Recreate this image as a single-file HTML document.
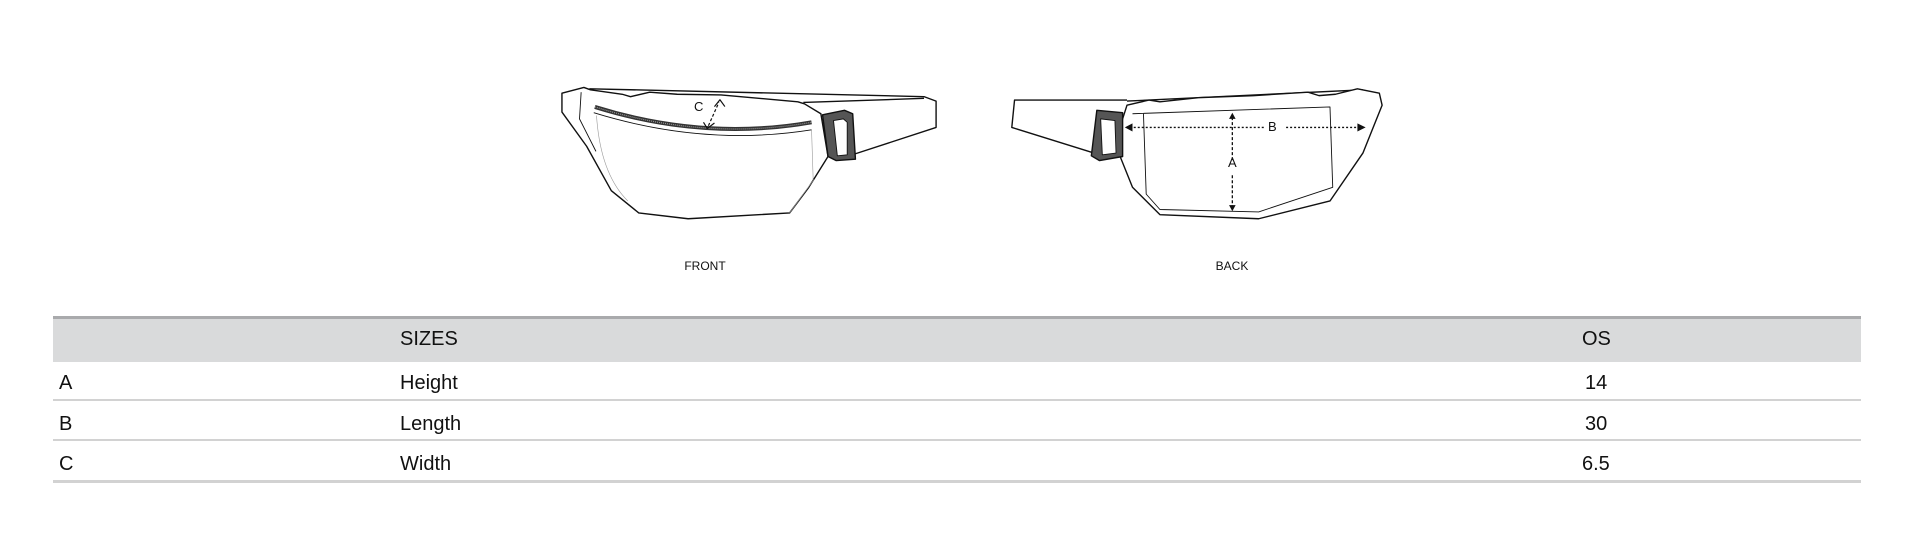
<!DOCTYPE html>
<html><head><meta charset="utf-8"><style>
html,body{margin:0;padding:0;background:#fff;width:1920px;height:552px;overflow:hidden;font-family:"Liberation Sans",sans-serif;}
svg{position:absolute;left:0;top:0}
.t{position:absolute;font-size:20px;color:#111;line-height:20px}
.hl{position:absolute;left:53px;width:1808px;}
path{vector-effect:non-scaling-stroke}
</style></head><body>
<svg width="1920" height="552" viewBox="0 0 1920 552">
<g transform="translate(540,71) scale(0.5486,0.342)" fill="none" stroke="#111" stroke-width="1.4" stroke-linejoin="round">
<path d="M90,52 L700,75 L722,88 L722,165 L575,242" fill="#fff"/>
<path d="M480,92 L700,80"/>
<path d="M40,65 L80,48 L92,55 L150,68 L165,75 L200,62 L250,68 L330,70 L470,90 L482,96 L512,125 L525,250 L490,340 L455,415 L270,432 L180,415 L130,350 L85,220 L40,120 Z" fill="#fff"/>
<path d="M75,62 L72,140 L102,235" stroke-width="0.9"/>
<path d="M100,105 Q300,205 495,150" stroke="#333" stroke-width="4"/>
<path d="M100,105 Q300,205 495,150" stroke="#999" stroke-width="1.2" stroke-dasharray="1 1"/>
<path d="M98,122 Q300,222 495,172" stroke-width="0.9"/>
<path d="M103,130 Q110,300 160,380" stroke="#999" stroke-width="0.6"/>
<path d="M495,172 L498,320 L455,415" stroke="#999" stroke-width="0.6"/>
<path d="M515,128 L555,115 L570,125 L575,258 L540,262 L525,250 Z" fill="#555"/>
<path d="M535,145 L553,140 L560,150 L560,245 L542,248 Z" fill="#fff" stroke-width="0.9"/>
<path d="M307,160 L326,92" stroke-width="1.2" stroke-dasharray="3 2"/>
<path d="M298,150 L305,168 L318,152 M318,104 L328,84 L337,104" stroke-width="1.2"/>
<path d="M1070,85 L865,85 L860,165 L1010,240" fill="#fff"/>
<path d="M1070,88 L1500,55"/>
<path d="M1070,100 L1110,85 L1130,90 L1200,78 L1300,72 L1400,62 L1420,72 L1450,68 L1490,52 L1530,65 L1535,100 L1500,240 L1440,380 L1310,432 L1130,420 L1080,340 L1055,240 L1060,150 Z" fill="#fff"/>
<path d="M1080,125 L1440,105 L1445,340 L1310,412 L1130,405 L1105,360 L1100,125" stroke-width="0.9"/>
<path d="M1015,115 L1062,122 L1062,250 L1020,262 L1005,248 Z" fill="#555"/>
<path d="M1022,140 L1048,145 L1050,240 L1025,245 Z" fill="#fff" stroke-width="0.9"/>
<path d="M1075,165 L1320,165 M1360,165 L1495,165" stroke-width="1.3" stroke-dasharray="2 2"/>
<path d="M1080,153 L1066,165 L1080,177 Z M1490,153 L1505,165 L1490,177 Z" fill="#111" stroke="none"/>
<path d="M1262,135 L1262,265 M1262,305 L1262,400" stroke-width="1.3" stroke-dasharray="3 2"/>
<path d="M1256,140 L1262,122 L1268,140 Z M1256,392 L1262,410 L1268,392 Z" fill="#111" stroke="none"/>
</g>
<g font-family="Liberation Sans, sans-serif" fill="#111">
<text x="694" y="111" font-size="13">C</text>
<text x="1268" y="131" font-size="13">B</text>
<text x="1228" y="167" font-size="13">A</text>
<text x="705" y="270" font-size="12" text-anchor="middle">FRONT</text>
<text x="1232" y="270" font-size="12" text-anchor="middle">BACK</text>
</g>
</svg>
<div class="hl" style="top:316px;height:46px;background:#d9dadb;border-top:3px solid #a9aaac;box-sizing:border-box"></div>
<div class="hl" style="top:399px;height:2px;background:#d2d2d2"></div>
<div class="hl" style="top:439px;height:2px;background:#d2d2d2"></div>
<div class="hl" style="top:480px;height:3px;background:#d2d2d2"></div>
<div class="t" style="left:400px;top:329px">SIZES</div>
<div class="t" style="left:1582px;top:329px">OS</div>
<div class="t" style="left:59px;top:373px">A</div>
<div class="t" style="left:400px;top:373px">Height</div>
<div class="t" style="left:1585px;top:373px">14</div>
<div class="t" style="left:59px;top:414px">B</div>
<div class="t" style="left:400px;top:414px">Length</div>
<div class="t" style="left:1585px;top:414px">30</div>
<div class="t" style="left:59px;top:454px">C</div>
<div class="t" style="left:400px;top:454px">Width</div>
<div class="t" style="left:1582px;top:454px">6.5</div>
</body></html>
